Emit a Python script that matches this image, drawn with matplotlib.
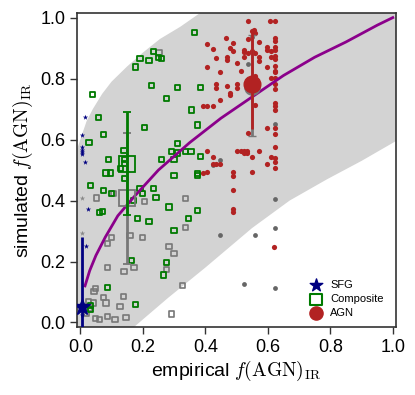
import matplotlib
matplotlib.use('Agg')
import matplotlib.pyplot as plt

# fonts: Arial-like sans for text, Computer Modern for the math parts
plt.rcParams['font.family'] = ['Liberation Sans', 'DejaVu Sans']
plt.rcParams['mathtext.fontset'] = 'cm'

# model curve
curve_x = [0.015, 0.03, 0.05, 0.08, 0.12, 0.17, 0.25, 0.35, 0.45, 0.55, 0.65, 0.75, 0.85, 0.95, 1.0]
curve_y = [0.12, 0.17, 0.22, 0.28, 0.35, 0.41, 0.50, 0.59, 0.67, 0.74, 0.81, 0.87, 0.92, 0.975, 1.0]

# grey band boundaries
band_up_x = [-0.01, 0.0, 0.02, 0.04, 0.07, 0.1, 0.15, 0.2, 0.255, 0.32, 0.39]
band_up_y = [0.57, 0.60, 0.66, 0.70, 0.75, 0.79, 0.84, 0.885, 0.93, 0.97, 1.02]
band_lo_x = [0.166, 0.28, 0.4, 0.55, 0.67, 0.79, 0.9, 1.01]
band_lo_y = [-0.02, 0.08, 0.18, 0.31, 0.40, 0.47, 0.53, 0.595]

# SFG
sfg_x = [0.006, 0.016, 0.006, 0.006, 0.006, 0.006, 0.015, 0.023, 0.018, 0.005, 0.005, 0.012]
sfg_y = [0.616, 0.675, 0.574, 0.566, 0.558, 0.552, 0.528, 0.371, 0.251, 0.053, 0.026, 0.04]
sfg_grey_x = [0.005, 0.005]
sfg_grey_y = [0.407, 0.293]

# Composite
comp_x = [0.235, 0.191, 0.220, 0.249, 0.259, 0.177, 0.227, 0.310, 0.275, 0.038, 0.058, 0.365,
          0.384, 0.355, 0.074, 0.028, 0.205, 0.140, 0.091, 0.141, 0.141, 0.128, 0.082, 0.097,
          0.143, 0.259, 0.292, 0.310, 0.310, 0.300, 0.300, 0.033, 0.074, 0.101, 0.191, 0.235,
          0.242, 0.200, 0.170, 0.061, 0.071, 0.284, 0.184, 0.220, 0.375, 0.337, 0.354, 0.384,
          0.375, 0.375, 0.375, 0.346, 0.300, 0.165, 0.275, 0.266, 0.087, 0.177, 0.032, 0.032]
comp_y = [0.888, 0.865, 0.860, 0.869, 0.865, 0.838, 0.776, 0.770, 0.735, 0.747, 0.672, 0.952,
          0.771, 0.697, 0.616, 0.590, 0.639, 0.565, 0.535, 0.534, 0.521, 0.506, 0.490, 0.490,
          0.473, 0.535, 0.561, 0.556, 0.588, 0.535, 0.481, 0.448, 0.432, 0.423, 0.440, 0.440,
          0.410, 0.423, 0.399, 0.360, 0.365, 0.379, 0.342, 0.331, 0.648, 0.561, 0.561, 0.544,
          0.489, 0.481, 0.368, 0.342, 0.302, 0.203, 0.196, 0.156, 0.115, 0.059, 0.056, 0.042]
comp_grey_x = [0.252, 0.051, 0.106, 0.205, 0.337, 0.101, 0.087, 0.159, 0.198, 0.284, 0.300,
               0.275, 0.172, 0.140, 0.087, 0.048, 0.044, 0.074, 0.139, 0.082, 0.127, 0.027,
               0.042, 0.048, 0.062, 0.087, 0.111, 0.146, 0.292, 0.327, 0.336, 0.020, 0.030]
comp_grey_y = [0.884, 0.408, 0.423, 0.397, 0.406, 0.280, 0.260, 0.285, 0.280, 0.249, 0.225,
               0.175, 0.180, 0.167, 0.180, 0.112, 0.102, 0.082, 0.085, 0.064, 0.052, 0.069,
               0.064, 0.014, 0.009, 0.020, 0.011, 0.017, 0.028, 0.120, 0.311, 0.030, 0.045]

# AGN
agn_x = [0.537, 0.608, 0.622, 0.548, 0.556, 0.560, 0.622, 0.622, 0.537, 0.467, 0.489, 0.572,
         0.404, 0.425, 0.479, 0.489, 0.523, 0.523, 0.537, 0.548, 0.558, 0.597, 0.597, 0.609,
         0.622, 0.622, 0.622, 0.622, 0.609, 0.571, 0.571, 0.524, 0.468, 0.468, 0.435, 0.502,
         0.597, 0.622, 0.404, 0.622, 0.622, 0.447, 0.513, 0.560, 0.609, 0.622, 0.622, 0.622,
         0.468, 0.435, 0.435, 0.502, 0.502, 0.479, 0.479, 0.447, 0.394, 0.404, 0.425, 0.560,
         0.622, 0.622, 0.622, 0.404, 0.425, 0.425, 0.435, 0.446, 0.394, 0.404, 0.489, 0.489,
         0.489, 0.489, 0.489, 0.500, 0.513, 0.523, 0.534, 0.523, 0.534, 0.548, 0.572, 0.548,
         0.597, 0.537, 0.622, 0.622, 0.622, 0.609, 0.622, 0.622, 0.597, 0.622, 0.621]
agn_y = [0.989, 0.989, 0.989, 0.957, 0.960, 0.950, 0.934, 0.924, 0.929, 0.932, 0.918, 0.921,
         0.912, 0.898, 0.901, 0.892, 0.894, 0.888, 0.883, 0.891, 0.883, 0.902, 0.895, 0.891,
         0.902, 0.894, 0.874, 0.863, 0.870, 0.871, 0.858, 0.871, 0.871, 0.862, 0.866, 0.851,
         0.838, 0.842, 0.839, 0.825, 0.820, 0.822, 0.825, 0.809, 0.803, 0.801, 0.781, 0.765,
         0.775, 0.781, 0.770, 0.781, 0.770, 0.754, 0.745, 0.730, 0.709, 0.709, 0.709, 0.712,
         0.721, 0.710, 0.697, 0.561, 0.544, 0.521, 0.521, 0.521, 0.489, 0.494, 0.494, 0.481,
         0.434, 0.371, 0.363, 0.562, 0.562, 0.562, 0.562, 0.555, 0.555, 0.544, 0.562, 0.494,
         0.639, 0.623, 0.639, 0.617, 0.574, 0.544, 0.538, 0.528, 0.521, 0.506, 0.246]
agn_grey_x = [0.548, 0.536, 0.622, 0.447, 0.425, 0.622, 0.447, 0.560, 0.622, 0.524, 0.622]
agn_grey_y = [0.938, 0.847, 0.652, 0.533, 0.517, 0.406, 0.288, 0.288, 0.311, 0.127, 0.112]

# class means with errors (lower, upper)
sfg_mean = (0.005, 0.052)
sfg_err = (0.23, 0.23)
comp_mean = (0.151, 0.521)
comp_err = (0.17, 0.17)
comp_grey_mean = (0.151, 0.407)
comp_grey_err = (0.215, 0.215)
agn_mean = (0.548, 0.781)
agn_err = (0.148, 0.173)
agn_grey_mean = (0.548, 0.772)
agn_grey_err = (0.16, 0.17)

grey = '#777777'
red = '#b22222'
green = '#007a00'
navy = '#000080'

fig = plt.figure(figsize=(4.15, 3.95), dpi=100)
ax = fig.add_axes([0.186, 0.172, 0.768, 0.795])

# grey band
poly_x = band_up_x + [1.02, 1.02] + band_lo_x[::-1] + [-0.02]
poly_y = band_up_y + [1.02, band_lo_y[-1]] + band_lo_y[::-1] + [-0.02]
ax.fill(poly_x, poly_y, color='#d3d3d3', lw=0, zorder=0)

# individual sources
ax.scatter(comp_grey_x, comp_grey_y, marker='s', s=14, facecolors='none',
           edgecolors=grey, linewidths=1.2, zorder=2)
ax.scatter(agn_grey_x, agn_grey_y, marker='o', s=12, color='#666666', lw=0, zorder=2)
ax.scatter(sfg_grey_x, sfg_grey_y, marker='*', s=16, color='#888888', lw=0, zorder=2)
ax.scatter(comp_x, comp_y, marker='s', s=14, facecolors='none',
           edgecolors=green, linewidths=1.3, zorder=3)
ax.scatter(agn_x, agn_y, marker='o', s=14, color=red, lw=0, zorder=3)
ax.scatter(sfg_x, sfg_y, marker='*', s=16, color=navy, lw=0, zorder=3)

# model curve
ax.plot(curve_x, curve_y, color='#8b008b', lw=2, zorder=4)

# mean values with error bars
ax.errorbar(comp_grey_mean[0], comp_grey_mean[1], yerr=[[comp_grey_err[0]], [comp_grey_err[1]]],
            fmt='s', ms=11, mfc='none', mec=grey, mew=1.3, ecolor=grey, elinewidth=2,
            capsize=3, capthick=1, zorder=5)
ax.errorbar(agn_grey_mean[0], agn_grey_mean[1], yerr=[[agn_grey_err[0]], [agn_grey_err[1]]],
            fmt='o', ms=11, color=grey, ecolor=grey, elinewidth=2,
            capsize=3, capthick=1, zorder=5)
ax.errorbar(comp_mean[0], comp_mean[1], yerr=[[comp_err[0]], [comp_err[1]]],
            fmt='s', ms=11, mfc='none', mec=green, mew=1.3, ecolor=green, elinewidth=2,
            capsize=3, capthick=1, zorder=6)
ax.errorbar(agn_mean[0], agn_mean[1], yerr=[[agn_err[0]], [agn_err[1]]],
            fmt='o', ms=12, color=red, ecolor=red, elinewidth=2, zorder=6)
ax.errorbar(sfg_mean[0], sfg_mean[1], yerr=[[sfg_err[0]], [sfg_err[1]]],
            fmt='*', ms=12, color=navy, ecolor=navy, elinewidth=2, zorder=6)

# legend handles
ax.scatter([], [], marker='*', s=90, color=navy, label='SFG')
ax.scatter([], [], marker='s', s=70, facecolors='none', edgecolors=green, linewidths=1.5,
           label='Composite')
ax.scatter([], [], marker='o', s=90, color=red, label='AGN')
ax.legend(loc='lower right', bbox_to_anchor=(0.99, 0.0), frameon=False, fontsize=8,
          handletextpad=0.3, labelspacing=0.35, borderaxespad=0.4)

ax.set_xlim(-0.01, 1.01)
ax.set_ylim(-0.015, 1.015)
ax.set_xticks([0.0, 0.2, 0.4, 0.6, 0.8, 1.0])
ax.set_yticks([0.0, 0.2, 0.4, 0.6, 0.8, 1.0])
ax.tick_params(direction='out', length=5, width=1, labelsize=13, color='#333333',
               top=False, right=False)
for sp in ax.spines.values():
    sp.set_color('#333333')
    sp.set_linewidth(1.2)

ax.set_xlabel(r'empirical $f(\mathrm{AGN})_\mathrm{IR}$', fontsize=14, labelpad=2)
ax.set_ylabel(r'simulated $f(\mathrm{AGN})_\mathrm{IR}$', fontsize=14, labelpad=4)

fig.savefig('out.png', dpi=100)
